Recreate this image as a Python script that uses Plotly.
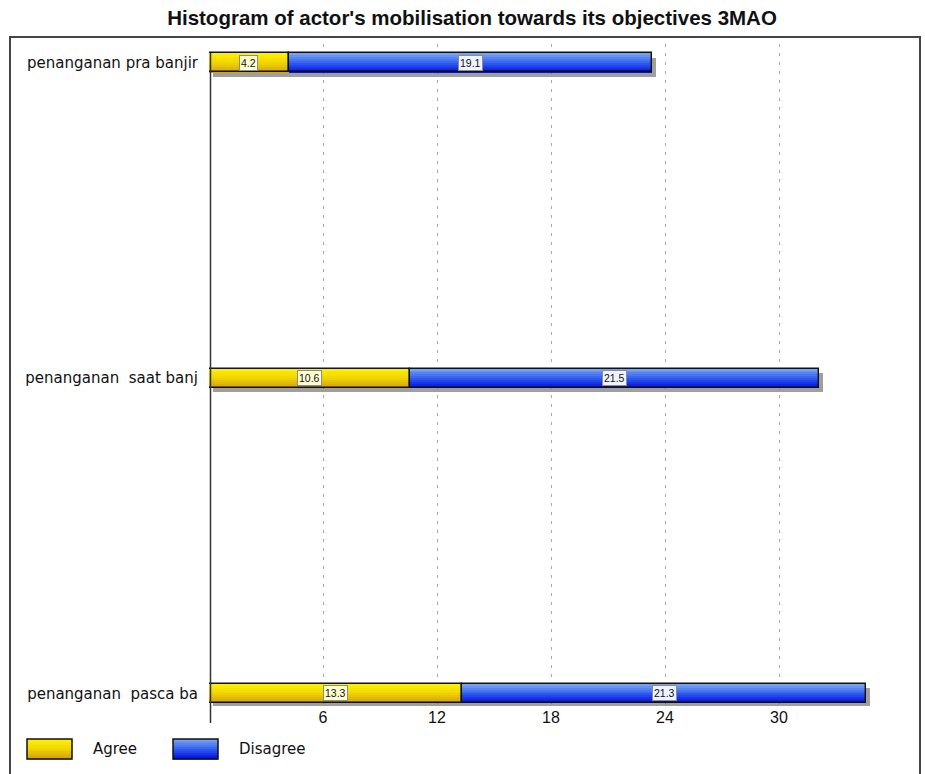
import plotly.graph_objects as go

# ---- data ----
categories = ["penanganan pra banjir", "penanganan  saat banj", "penanganan  pasca ba"]
agree = [4.2, 10.6, 13.3]
disagree = [19.1, 21.5, 21.3]
series_names = ["Agree", "Disagree"]
x_ticks = [6, 12, 18, 24, 30]

# ---- layout geometry (pixels) ----
W, H = 925, 774
ML, MR, MT, MB = 209, 20, 44, 68
PW, PH = W - ML - MR, H - MT - MB
PX_PER_UNIT = 19.0
X_MAX = PW / PX_PER_UNIT
Y_RANGE = [2.04, -0.06]
BAR_W = 0.06
N_STRIPS = 10


def px_x(p):
    return (p - ML) / PW


def px_y(p):
    return (H - MB - p) / PH


def lerp_stops(stops, t):
    # piecewise-linear colour ramp
    n = len(stops) - 1
    k = min(int(t * n), n - 1)
    u = t * n - k
    a, b = stops[k], stops[k + 1]
    return "rgb(%d,%d,%d)" % tuple(round(a[j] + (b[j] - a[j]) * u) for j in range(3))


YELLOW_STOPS = [(255, 242, 0), (240, 212, 0), (210, 158, 20)]
BLUE_STOPS = [(125, 170, 240), (50, 95, 240), (0, 10, 225)]
LABEL_BG = ["#FFFFD2", "#EEF3FF"]

ypos = list(range(len(categories)))
totals = [a + d for a, d in zip(agree, disagree)]
bases = [[0] * len(agree), agree]
values = [agree, disagree]
ramps = [YELLOW_STOPS, BLUE_STOPS]

fig = go.Figure()

# drop shadow under each full bar
fig.add_trace(go.Bar(
    y=ypos, x=totals, base=[0.2] * len(totals), orientation="h",
    width=BAR_W, offset=-BAR_W / 2 + 0.014,
    marker=dict(color="rgba(80,80,80,0.55)", line=dict(width=0)),
    showlegend=False, hoverinfo="skip",
))

# gradient-filled segments, built from horizontal strips
step = BAR_W / N_STRIPS
for vals, base, ramp in zip(values, bases, ramps):
    for i in range(N_STRIPS):
        fig.add_trace(go.Bar(
            y=ypos, x=vals, base=base, orientation="h",
            width=step * 1.15, offset=-BAR_W / 2 + i * step,
            marker=dict(color=lerp_stops(ramp, (i + 0.5) / N_STRIPS), line=dict(width=0)),
            showlegend=False, hoverinfo="skip",
        ))

# segment outlines
for name, vals, base in zip(series_names, values, bases):
    fig.add_trace(go.Bar(
        y=ypos, x=vals, base=base, orientation="h", name=name,
        width=BAR_W, offset=-BAR_W / 2,
        marker=dict(color="rgba(0,0,0,0)", line=dict(color="#111111", width=1.4)),
        showlegend=False,
    ))

# value labels centred in each segment
annotations = []
for vals, base, bg in zip(values, bases, LABEL_BG):
    for y, v, b in zip(ypos, vals, base):
        annotations.append(dict(
            x=b + v / 2, y=y, xref="x", yref="y", text=f"{v:.1f}",
            showarrow=False, font=dict(family="Liberation Sans, Arial", size=10.5, color="#111111"),
            bgcolor=bg, bordercolor="#8C8C8C", borderwidth=1, borderpad=1,
        ))

# custom legend
shapes = []
legend_items = [(27, 91), (173, 237)]
for (bx, tx), name, ramp in zip(legend_items, series_names, ramps):
    top, bot = 739, 759
    n = 10
    for i in range(n):
        y0 = top + (bot - top) * i / n
        y1 = top + (bot - top) * (i + 1) / n + 0.4
        shapes.append(dict(type="rect", xref="paper", yref="paper",
                           x0=px_x(bx), x1=px_x(bx + 45), y0=px_y(y1), y1=px_y(y0),
                           fillcolor=lerp_stops(ramp, (i + 0.5) / n), line=dict(width=0)))
    shapes.append(dict(type="rect", xref="paper", yref="paper",
                       x0=px_x(bx), x1=px_x(bx + 45), y0=px_y(bot), y1=px_y(top),
                       line=dict(color="#111111", width=1.5)))
    annotations.append(dict(
        x=px_x(tx), y=px_y(749), xref="paper", yref="paper", text=name,
        xanchor="left", yanchor="middle", showarrow=False,
        font=dict(family="DejaVu Sans", size=15, color="#111111"),
    ))

# outer frame and vertical axis line
shapes.append(dict(type="rect", xref="paper", yref="paper",
                   x0=px_x(10), x1=px_x(920), y0=px_y(800), y1=px_y(37),
                   line=dict(color="#444444", width=2)))
shapes.append(dict(type="line", xref="paper", yref="paper",
                   x0=px_x(210.5), x1=px_x(210.5), y0=px_y(723), y1=px_y(53),
                   line=dict(color="#333333", width=1.5)))

fig.update_layout(
    width=W, height=H,
    margin=dict(l=ML, r=MR, t=MT, b=MB),
    paper_bgcolor="white", plot_bgcolor="white",
    barmode="overlay", bargap=0,
    title=dict(
        text="<b>Histogram of actor's mobilisation towards its objectives 3MAO</b>",
        x=(157 + 787) / 2 / W, xanchor="center", y=1 - 18 / H, yanchor="middle",
        xref="container", yref="container",
        font=dict(family="Liberation Sans, Arial", size=20.5, color="#111111"),
    ),
    xaxis=dict(
        range=[0, X_MAX], tickvals=x_ticks, ticktext=[str(t) for t in x_ticks],
        showgrid=True, gridcolor="#A8A8A8", gridwidth=1, griddash="3px,6px",
        zeroline=False, showline=False, ticks="",
        tickfont=dict(family="Liberation Sans, Arial", size=16, color="#111111"),
    ),
    yaxis=dict(
        range=Y_RANGE, tickvals=ypos,
        ticktext=[c.replace("  ", " \u00a0") for c in categories],
        showgrid=False, zeroline=False, showline=False, ticks="",
        ticklabelstandoff=10,
        tickfont=dict(family="DejaVu Sans", size=15, color="#111111"),
    ),
    shapes=shapes,
    annotations=annotations,
    showlegend=False,
)

fig.write_html("out.html")
